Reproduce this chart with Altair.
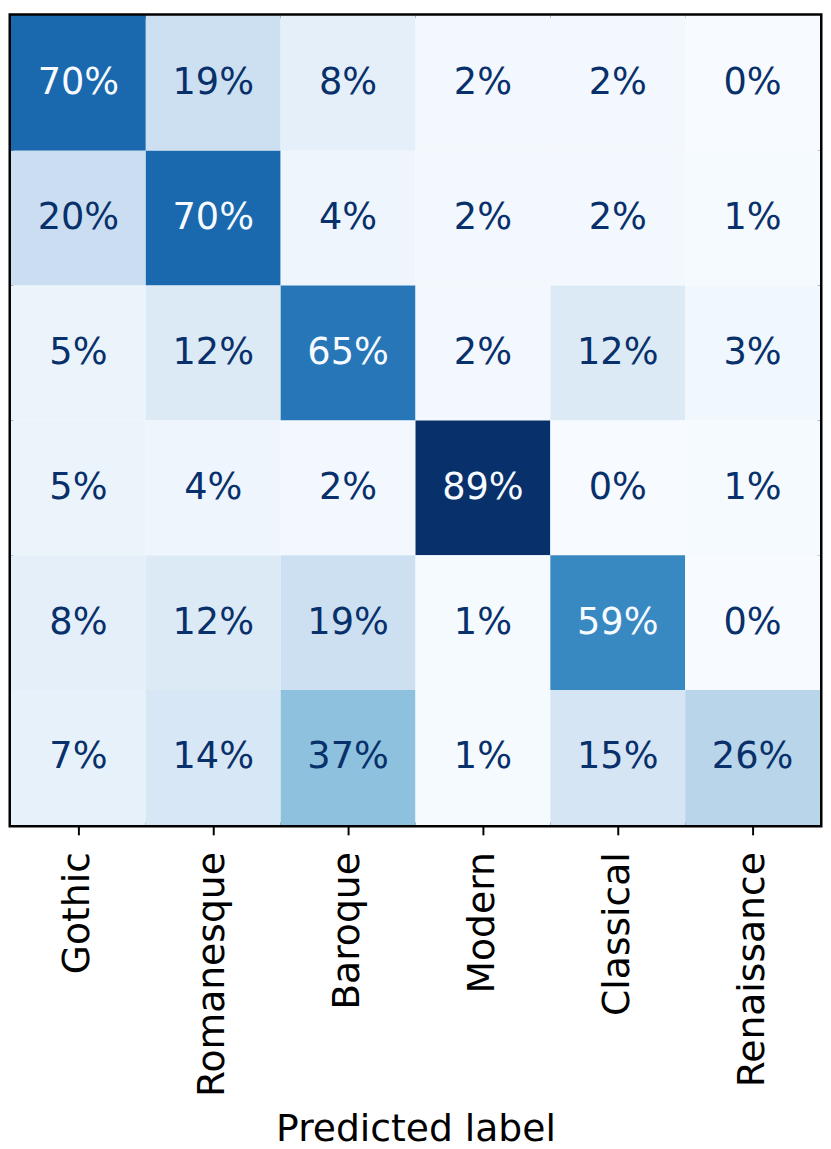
import altair as alt
import pandas as pd

classes = ["Gothic", "Romanesque", "Baroque", "Modern", "Classical", "Renaissance"]
row_gothic = [70, 19, 8, 2, 2, 0]
row_romanesque = [20, 70, 4, 2, 2, 1]
row_baroque = [5, 12, 65, 2, 12, 3]
row_modern = [5, 4, 2, 89, 0, 1]
row_classical = [8, 12, 19, 1, 59, 0]
row_renaissance = [7, 14, 37, 1, 15, 26]
rows = [row_gothic, row_romanesque, row_baroque, row_modern, row_classical, row_renaissance]

records = []
for i, t in enumerate(classes):
    for j, p in enumerate(classes):
        v = rows[i][j]
        records.append({"true": t, "pred": p, "value": v / 100.0, "label": f"{v}%"})
df = pd.DataFrame(records)

vmax = 0.89
thresh = vmax / 2
df["light"] = df["value"] > thresh

blues = ["#f7fbff", "#deebf7", "#c6dbef", "#9ecae1", "#6baed6",
         "#4292c6", "#2171b5", "#08519c", "#08306b"]
stops = [0.0, 0.11125, 0.2225, 0.33375, 0.445, 0.55625, 0.6675, 0.77875, 0.89]

FONT = "DejaVu Sans"
SIZE = 816

x = alt.X("pred:N", sort=classes, title="Predicted label",
          axis=alt.Axis(labelAngle=270, labelFontSize=38, labelFont=FONT,
                        labelColor="black", labelLimit=0,
                        titleFontSize=38, titleFont=FONT,
                        titleFontWeight="normal", titleColor="black",
                        titleY=318, titleBaseline="alphabetic",
                        tickSize=10, tickWidth=2, tickColor="black",
                        labelPadding=17, domain=False,
                        grid=False))
y = alt.Y("true:N", sort=classes, axis=None)

base = alt.Chart(df)

rect = base.mark_rect().encode(
    x=x, y=y,
    color=alt.Color("value:Q", legend=None,
                    scale=alt.Scale(domain=stops, range=blues, interpolate="rgb")),
)

text = base.mark_text(font=FONT, fontSize=37).encode(
    x=alt.X("pred:N", sort=classes),
    y=alt.Y("true:N", sort=classes, axis=None),
    text="label:N",
    color=alt.condition(alt.datum.light, alt.value("#f7fbff"), alt.value("#08306b")),
)

chart = (rect + text).properties(
    width=SIZE, height=SIZE,
    padding={"left": 3, "top": 3, "right": 3, "bottom": 0}
).configure_view(
    stroke="black", strokeWidth=5
).configure_scale(bandPaddingInner=0, bandPaddingOuter=0)

chart.save("out.html", embed_options={"renderer": "svg", "actions": False})
